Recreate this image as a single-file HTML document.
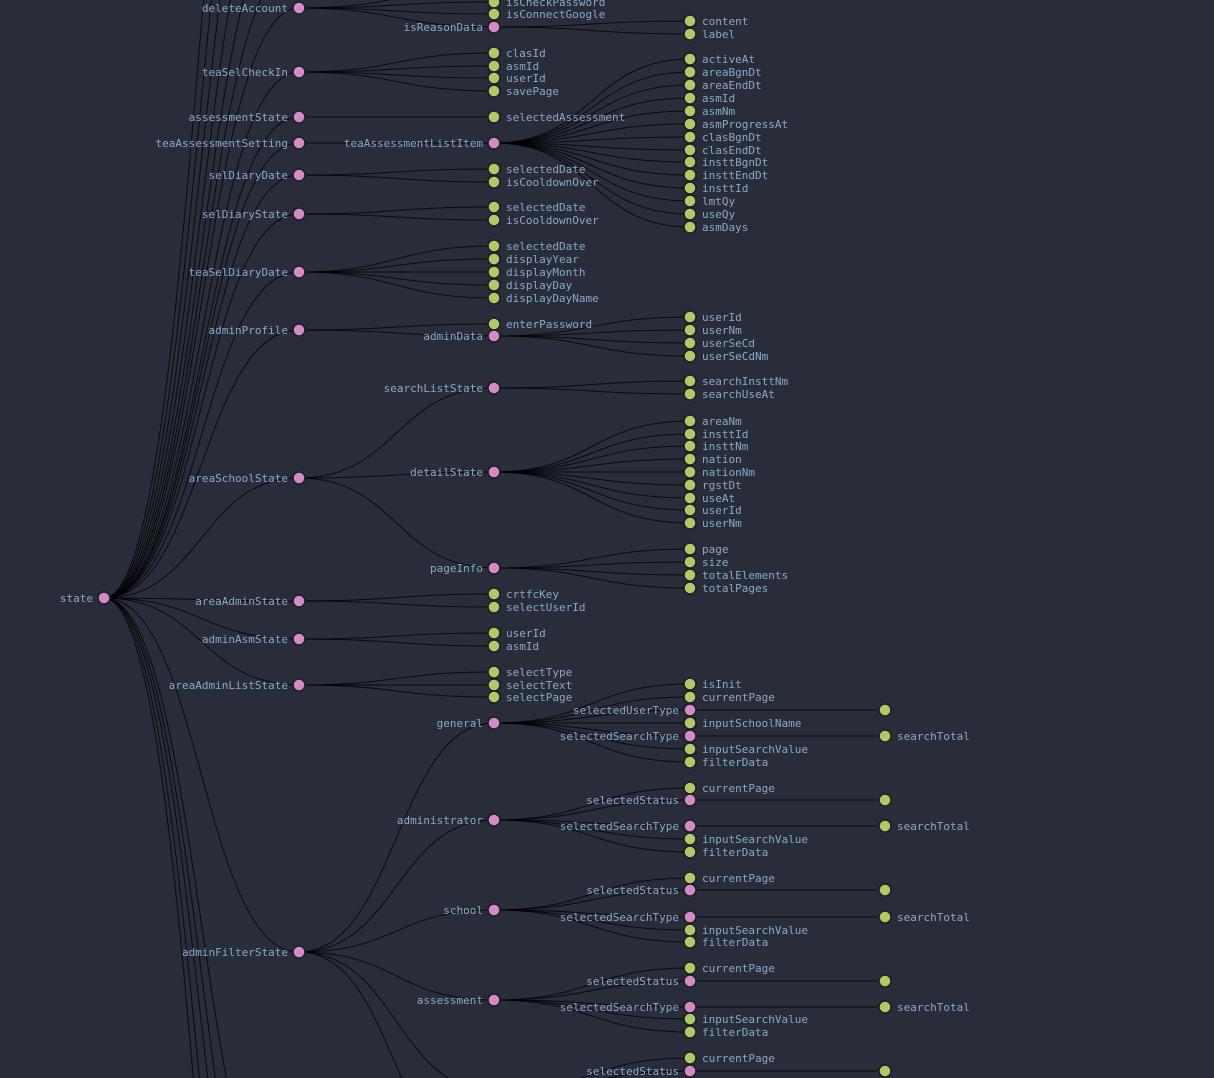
<!DOCTYPE html>
<html><head><meta charset="utf-8"><style>
html,body{margin:0;padding:0;background:#292d39;width:1214px;height:1078px;overflow:hidden}
svg{display:block;overflow:hidden}
path{fill:none;stroke:#000;stroke-opacity:.8;stroke-width:1}
circle{stroke:#1b1e26;stroke-width:1.5}
.p{fill:#d58ac5}.g{fill:#b1c964}
text{font-family:"DejaVu Sans Mono","Liberation Mono",monospace;font-size:11px;fill:#86aacb}
.l{text-anchor:end}
</style></head><body>
<svg width="1214" height="1078" viewBox="0 0 1214 1078">
<g>
<path d="M104,598C201.5,598 201.5,8 299,8"/>
<path d="M104,598C201.5,598 201.5,72 299,72"/>
<path d="M104,598C201.5,598 201.5,117 299,117"/>
<path d="M104,598C201.5,598 201.5,143 299,143"/>
<path d="M104,598C201.5,598 201.5,175 299,175"/>
<path d="M104,598C201.5,598 201.5,214 299,214"/>
<path d="M104,598C201.5,598 201.5,272 299,272"/>
<path d="M104,598C201.5,598 201.5,330 299,330"/>
<path d="M104,598C201.5,598 201.5,478 299,478"/>
<path d="M104,598C201.5,598 201.5,601 299,601"/>
<path d="M104,598C201.5,598 201.5,639 299,639"/>
<path d="M104,598C201.5,598 201.5,685 299,685"/>
<path d="M104,598C201.5,598 201.5,952 299,952"/>
<path d="M104,598C201.5,598 201.5,-40 299,-40"/>
<path d="M104,598C201.5,598 201.5,-100 299,-100"/>
<path d="M104,598C201.5,598 201.5,-180 299,-180"/>
<path d="M104,598C201.5,598 201.5,-280 299,-280"/>
<path d="M104,598C201.5,598 201.5,-400 299,-400"/>
<path d="M104,598C201.5,598 201.5,-550 299,-550"/>
<path d="M104,598C201.5,598 201.5,1250 299,1250"/>
<path d="M104,598C201.5,598 201.5,1350 299,1350"/>
<path d="M104,598C201.5,598 201.5,1450 299,1450"/>
<path d="M104,598C201.5,598 201.5,1600 299,1600"/>
<path d="M104,598C201.5,598 201.5,1750 299,1750"/>
<path d="M299,8C396.5,8 396.5,-11 494,-11"/>
<path d="M299,8C396.5,8 396.5,2 494,2"/>
<path d="M299,8C396.5,8 396.5,14 494,14"/>
<path d="M299,8C396.5,8 396.5,27 494,27"/>
<path d="M299,72C396.5,72 396.5,53 494,53"/>
<path d="M299,72C396.5,72 396.5,66 494,66"/>
<path d="M299,72C396.5,72 396.5,78 494,78"/>
<path d="M299,72C396.5,72 396.5,91 494,91"/>
<path d="M299,117L494,117"/>
<path d="M299,143L494,143"/>
<path d="M299,175C396.5,175 396.5,169 494,169"/>
<path d="M299,175C396.5,175 396.5,182 494,182"/>
<path d="M299,214C396.5,214 396.5,207 494,207"/>
<path d="M299,214C396.5,214 396.5,220 494,220"/>
<path d="M299,272C396.5,272 396.5,246 494,246"/>
<path d="M299,272C396.5,272 396.5,259 494,259"/>
<path d="M299,272L494,272"/>
<path d="M299,272C396.5,272 396.5,285 494,285"/>
<path d="M299,272C396.5,272 396.5,298 494,298"/>
<path d="M299,330C396.5,330 396.5,324 494,324"/>
<path d="M299,330C396.5,330 396.5,336 494,336"/>
<path d="M299,478C396.5,478 396.5,388 494,388"/>
<path d="M299,478C396.5,478 396.5,472 494,472"/>
<path d="M299,478C396.5,478 396.5,568 494,568"/>
<path d="M299,601C396.5,601 396.5,594 494,594"/>
<path d="M299,601C396.5,601 396.5,607 494,607"/>
<path d="M299,639C396.5,639 396.5,633 494,633"/>
<path d="M299,639C396.5,639 396.5,646 494,646"/>
<path d="M299,685C396.5,685 396.5,672 494,672"/>
<path d="M299,685L494,685"/>
<path d="M299,685C396.5,685 396.5,697 494,697"/>
<path d="M299,952C396.5,952 396.5,723 494,723"/>
<path d="M299,952C396.5,952 396.5,820 494,820"/>
<path d="M299,952C396.5,952 396.5,910 494,910"/>
<path d="M299,952C396.5,952 396.5,1000 494,1000"/>
<path d="M299,952C396.5,952 396.5,1091 494,1091"/>
<path d="M299,952C396.5,952 396.5,1181 494,1181"/>
<path d="M494,27C592,27 592,21 690,21"/>
<path d="M494,27C592,27 592,34 690,34"/>
<path d="M494,143C592,143 592,59 690,59"/>
<path d="M494,143C592,143 592,72 690,72"/>
<path d="M494,143C592,143 592,85 690,85"/>
<path d="M494,143C592,143 592,98 690,98"/>
<path d="M494,143C592,143 592,111 690,111"/>
<path d="M494,143C592,143 592,124 690,124"/>
<path d="M494,143C592,143 592,137 690,137"/>
<path d="M494,143C592,143 592,150 690,150"/>
<path d="M494,143C592,143 592,162 690,162"/>
<path d="M494,143C592,143 592,175 690,175"/>
<path d="M494,143C592,143 592,188 690,188"/>
<path d="M494,143C592,143 592,201 690,201"/>
<path d="M494,143C592,143 592,214 690,214"/>
<path d="M494,143C592,143 592,227 690,227"/>
<path d="M494,336C592,336 592,317 690,317"/>
<path d="M494,336C592,336 592,330 690,330"/>
<path d="M494,336C592,336 592,343 690,343"/>
<path d="M494,336C592,336 592,356 690,356"/>
<path d="M494,388C592,388 592,381 690,381"/>
<path d="M494,388C592,388 592,394 690,394"/>
<path d="M494,472C592,472 592,421 690,421"/>
<path d="M494,472C592,472 592,434 690,434"/>
<path d="M494,472C592,472 592,446 690,446"/>
<path d="M494,472C592,472 592,459 690,459"/>
<path d="M494,472L690,472"/>
<path d="M494,472C592,472 592,485 690,485"/>
<path d="M494,472C592,472 592,498 690,498"/>
<path d="M494,472C592,472 592,510 690,510"/>
<path d="M494,472C592,472 592,523 690,523"/>
<path d="M494,568C592,568 592,549 690,549"/>
<path d="M494,568C592,568 592,562 690,562"/>
<path d="M494,568C592,568 592,575 690,575"/>
<path d="M494,568C592,568 592,588 690,588"/>
<path d="M494,723C592,723 592,684 690,684"/>
<path d="M494,723C592,723 592,697 690,697"/>
<path d="M494,723C592,723 592,710 690,710"/>
<path d="M494,723L690,723"/>
<path d="M494,723C592,723 592,736 690,736"/>
<path d="M494,723C592,723 592,749 690,749"/>
<path d="M494,723C592,723 592,762 690,762"/>
<path d="M494,820C592,820 592,788 690,788"/>
<path d="M494,820C592,820 592,800 690,800"/>
<path d="M494,820C592,820 592,826 690,826"/>
<path d="M494,820C592,820 592,839 690,839"/>
<path d="M494,820C592,820 592,852 690,852"/>
<path d="M494,910C592,910 592,878 690,878"/>
<path d="M494,910C592,910 592,890 690,890"/>
<path d="M494,910C592,910 592,917 690,917"/>
<path d="M494,910C592,910 592,930 690,930"/>
<path d="M494,910C592,910 592,942 690,942"/>
<path d="M494,1000C592,1000 592,968 690,968"/>
<path d="M494,1000C592,1000 592,981 690,981"/>
<path d="M494,1000C592,1000 592,1007 690,1007"/>
<path d="M494,1000C592,1000 592,1019 690,1019"/>
<path d="M494,1000C592,1000 592,1032 690,1032"/>
<path d="M494,1091C592,1091 592,1058 690,1058"/>
<path d="M494,1091C592,1091 592,1071 690,1071"/>
<path d="M494,1091C592,1091 592,1097 690,1097"/>
<path d="M690,710L885,710"/>
<path d="M690,736L885,736"/>
<path d="M690,800L885,800"/>
<path d="M690,826L885,826"/>
<path d="M690,890L885,890"/>
<path d="M690,917L885,917"/>
<path d="M690,981L885,981"/>
<path d="M690,1007L885,1007"/>
<path d="M690,1071L885,1071"/>
</g>
<circle class="p" cx="104" cy="598" r="6"/><text class="l" x="93" y="602">state</text>

<circle class="p" cx="299" cy="8" r="6"/><text class="l" x="288" y="12">deleteAccount</text>
<circle class="p" cx="299" cy="72" r="6"/><text class="l" x="288" y="76">teaSelCheckIn</text>
<circle class="p" cx="299" cy="117" r="6"/><text class="l" x="288" y="121">assessmentState</text>
<circle class="p" cx="299" cy="143" r="6"/><text class="l" x="288" y="147">teaAssessmentSetting</text>
<circle class="p" cx="299" cy="175" r="6"/><text class="l" x="288" y="179">selDiaryDate</text>
<circle class="p" cx="299" cy="214" r="6"/><text class="l" x="288" y="218">selDiaryState</text>
<circle class="p" cx="299" cy="272" r="6"/><text class="l" x="288" y="276">teaSelDiaryDate</text>
<circle class="p" cx="299" cy="330" r="6"/><text class="l" x="288" y="334">adminProfile</text>
<circle class="p" cx="299" cy="478" r="6"/><text class="l" x="288" y="482">areaSchoolState</text>
<circle class="p" cx="299" cy="601" r="6"/><text class="l" x="288" y="605">areaAdminState</text>
<circle class="p" cx="299" cy="639" r="6"/><text class="l" x="288" y="643">adminAsmState</text>
<circle class="p" cx="299" cy="685" r="6"/><text class="l" x="288" y="689">areaAdminListState</text>
<circle class="p" cx="299" cy="952" r="6"/><text class="l" x="288" y="956">adminFilterState</text>

<circle class="g" cx="494" cy="2" r="6"/><text x="506" y="6">isCheckPassword</text>
<circle class="g" cx="494" cy="14" r="6"/><text x="506" y="18">isConnectGoogle</text>
<circle class="p" cx="494" cy="27" r="6"/><text class="l" x="483" y="31">isReasonData</text>
<circle class="g" cx="494" cy="53" r="6"/><text x="506" y="57">clasId</text>
<circle class="g" cx="494" cy="66" r="6"/><text x="506" y="70">asmId</text>
<circle class="g" cx="494" cy="78" r="6"/><text x="506" y="82">userId</text>
<circle class="g" cx="494" cy="91" r="6"/><text x="506" y="95">savePage</text>
<circle class="g" cx="494" cy="117" r="6"/><text x="506" y="121">selectedAssessment</text>
<circle class="p" cx="494" cy="143" r="6"/><text class="l" x="483" y="147">teaAssessmentListItem</text>
<circle class="g" cx="494" cy="169" r="6"/><text x="506" y="173">selectedDate</text>
<circle class="g" cx="494" cy="182" r="6"/><text x="506" y="186">isCooldownOver</text>
<circle class="g" cx="494" cy="207" r="6"/><text x="506" y="211">selectedDate</text>
<circle class="g" cx="494" cy="220" r="6"/><text x="506" y="224">isCooldownOver</text>
<circle class="g" cx="494" cy="246" r="6"/><text x="506" y="250">selectedDate</text>
<circle class="g" cx="494" cy="259" r="6"/><text x="506" y="263">displayYear</text>
<circle class="g" cx="494" cy="272" r="6"/><text x="506" y="276">displayMonth</text>
<circle class="g" cx="494" cy="285" r="6"/><text x="506" y="289">displayDay</text>
<circle class="g" cx="494" cy="298" r="6"/><text x="506" y="302">displayDayName</text>
<circle class="g" cx="494" cy="324" r="6"/><text x="506" y="328">enterPassword</text>
<circle class="p" cx="494" cy="336" r="6"/><text class="l" x="483" y="340">adminData</text>
<circle class="p" cx="494" cy="388" r="6"/><text class="l" x="483" y="392">searchListState</text>
<circle class="p" cx="494" cy="472" r="6"/><text class="l" x="483" y="476">detailState</text>
<circle class="p" cx="494" cy="568" r="6"/><text class="l" x="483" y="572">pageInfo</text>
<circle class="g" cx="494" cy="594" r="6"/><text x="506" y="598">crtfcKey</text>
<circle class="g" cx="494" cy="607" r="6"/><text x="506" y="611">selectUserId</text>
<circle class="g" cx="494" cy="633" r="6"/><text x="506" y="637">userId</text>
<circle class="g" cx="494" cy="646" r="6"/><text x="506" y="650">asmId</text>
<circle class="g" cx="494" cy="672" r="6"/><text x="506" y="676">selectType</text>
<circle class="g" cx="494" cy="685" r="6"/><text x="506" y="689">selectText</text>
<circle class="g" cx="494" cy="697" r="6"/><text x="506" y="701">selectPage</text>
<circle class="p" cx="494" cy="723" r="6"/><text class="l" x="483" y="727">general</text>
<circle class="p" cx="494" cy="820" r="6"/><text class="l" x="483" y="824">administrator</text>
<circle class="p" cx="494" cy="910" r="6"/><text class="l" x="483" y="914">school</text>
<circle class="p" cx="494" cy="1000" r="6"/><text class="l" x="483" y="1004">assessment</text>

<circle class="g" cx="690" cy="21" r="6"/><text x="702" y="25">content</text>
<circle class="g" cx="690" cy="34" r="6"/><text x="702" y="38">label</text>
<circle class="g" cx="690" cy="59" r="6"/><text x="702" y="63">activeAt</text>
<circle class="g" cx="690" cy="72" r="6"/><text x="702" y="76">areaBgnDt</text>
<circle class="g" cx="690" cy="85" r="6"/><text x="702" y="89">areaEndDt</text>
<circle class="g" cx="690" cy="98" r="6"/><text x="702" y="102">asmId</text>
<circle class="g" cx="690" cy="111" r="6"/><text x="702" y="115">asmNm</text>
<circle class="g" cx="690" cy="124" r="6"/><text x="702" y="128">asmProgressAt</text>
<circle class="g" cx="690" cy="137" r="6"/><text x="702" y="141">clasBgnDt</text>
<circle class="g" cx="690" cy="150" r="6"/><text x="702" y="154">clasEndDt</text>
<circle class="g" cx="690" cy="162" r="6"/><text x="702" y="166">insttBgnDt</text>
<circle class="g" cx="690" cy="175" r="6"/><text x="702" y="179">insttEndDt</text>
<circle class="g" cx="690" cy="188" r="6"/><text x="702" y="192">insttId</text>
<circle class="g" cx="690" cy="201" r="6"/><text x="702" y="205">lmtQy</text>
<circle class="g" cx="690" cy="214" r="6"/><text x="702" y="218">useQy</text>
<circle class="g" cx="690" cy="227" r="6"/><text x="702" y="231">asmDays</text>
<circle class="g" cx="690" cy="317" r="6"/><text x="702" y="321">userId</text>
<circle class="g" cx="690" cy="330" r="6"/><text x="702" y="334">userNm</text>
<circle class="g" cx="690" cy="343" r="6"/><text x="702" y="347">userSeCd</text>
<circle class="g" cx="690" cy="356" r="6"/><text x="702" y="360">userSeCdNm</text>
<circle class="g" cx="690" cy="381" r="6"/><text x="702" y="385">searchInsttNm</text>
<circle class="g" cx="690" cy="394" r="6"/><text x="702" y="398">searchUseAt</text>
<circle class="g" cx="690" cy="421" r="6"/><text x="702" y="425">areaNm</text>
<circle class="g" cx="690" cy="434" r="6"/><text x="702" y="438">insttId</text>
<circle class="g" cx="690" cy="446" r="6"/><text x="702" y="450">insttNm</text>
<circle class="g" cx="690" cy="459" r="6"/><text x="702" y="463">nation</text>
<circle class="g" cx="690" cy="472" r="6"/><text x="702" y="476">nationNm</text>
<circle class="g" cx="690" cy="485" r="6"/><text x="702" y="489">rgstDt</text>
<circle class="g" cx="690" cy="498" r="6"/><text x="702" y="502">useAt</text>
<circle class="g" cx="690" cy="510" r="6"/><text x="702" y="514">userId</text>
<circle class="g" cx="690" cy="523" r="6"/><text x="702" y="527">userNm</text>
<circle class="g" cx="690" cy="549" r="6"/><text x="702" y="553">page</text>
<circle class="g" cx="690" cy="562" r="6"/><text x="702" y="566">size</text>
<circle class="g" cx="690" cy="575" r="6"/><text x="702" y="579">totalElements</text>
<circle class="g" cx="690" cy="588" r="6"/><text x="702" y="592">totalPages</text>

<circle class="g" cx="690" cy="684" r="6"/><text x="702" y="688">isInit</text>
<circle class="g" cx="690" cy="697" r="6"/><text x="702" y="701">currentPage</text>
<circle class="p" cx="690" cy="710" r="6"/><text class="l" x="679" y="714">selectedUserType</text>
<circle class="g" cx="690" cy="723" r="6"/><text x="702" y="727">inputSchoolName</text>
<circle class="p" cx="690" cy="736" r="6"/><text class="l" x="679" y="740">selectedSearchType</text>
<circle class="g" cx="690" cy="749" r="6"/><text x="702" y="753">inputSearchValue</text>
<circle class="g" cx="690" cy="762" r="6"/><text x="702" y="766">filterData</text>

<circle class="g" cx="690" cy="788" r="6"/><text x="702" y="792">currentPage</text>
<circle class="p" cx="690" cy="800" r="6"/><text class="l" x="679" y="804">selectedStatus</text>
<circle class="p" cx="690" cy="826" r="6"/><text class="l" x="679" y="830">selectedSearchType</text>
<circle class="g" cx="690" cy="839" r="6"/><text x="702" y="843">inputSearchValue</text>
<circle class="g" cx="690" cy="852" r="6"/><text x="702" y="856">filterData</text>

<circle class="g" cx="690" cy="878" r="6"/><text x="702" y="882">currentPage</text>
<circle class="p" cx="690" cy="890" r="6"/><text class="l" x="679" y="894">selectedStatus</text>
<circle class="p" cx="690" cy="917" r="6"/><text class="l" x="679" y="921">selectedSearchType</text>
<circle class="g" cx="690" cy="930" r="6"/><text x="702" y="934">inputSearchValue</text>
<circle class="g" cx="690" cy="942" r="6"/><text x="702" y="946">filterData</text>

<circle class="g" cx="690" cy="968" r="6"/><text x="702" y="972">currentPage</text>
<circle class="p" cx="690" cy="981" r="6"/><text class="l" x="679" y="985">selectedStatus</text>
<circle class="p" cx="690" cy="1007" r="6"/><text class="l" x="679" y="1011">selectedSearchType</text>
<circle class="g" cx="690" cy="1019" r="6"/><text x="702" y="1023">inputSearchValue</text>
<circle class="g" cx="690" cy="1032" r="6"/><text x="702" y="1036">filterData</text>

<circle class="g" cx="690" cy="1058" r="6"/><text x="702" y="1062">currentPage</text>
<circle class="p" cx="690" cy="1071" r="6"/><text class="l" x="679" y="1075">selectedStatus</text>

<circle class="g" cx="885" cy="710" r="6"/>
<circle class="g" cx="885" cy="736" r="6"/><text x="897" y="740">searchTotal</text>
<circle class="g" cx="885" cy="800" r="6"/>
<circle class="g" cx="885" cy="826" r="6"/><text x="897" y="830">searchTotal</text>
<circle class="g" cx="885" cy="890" r="6"/>
<circle class="g" cx="885" cy="917" r="6"/><text x="897" y="921">searchTotal</text>
<circle class="g" cx="885" cy="981" r="6"/>
<circle class="g" cx="885" cy="1007" r="6"/><text x="897" y="1011">searchTotal</text>
<circle class="g" cx="885" cy="1071" r="6"/>
</svg>
</body></html>
